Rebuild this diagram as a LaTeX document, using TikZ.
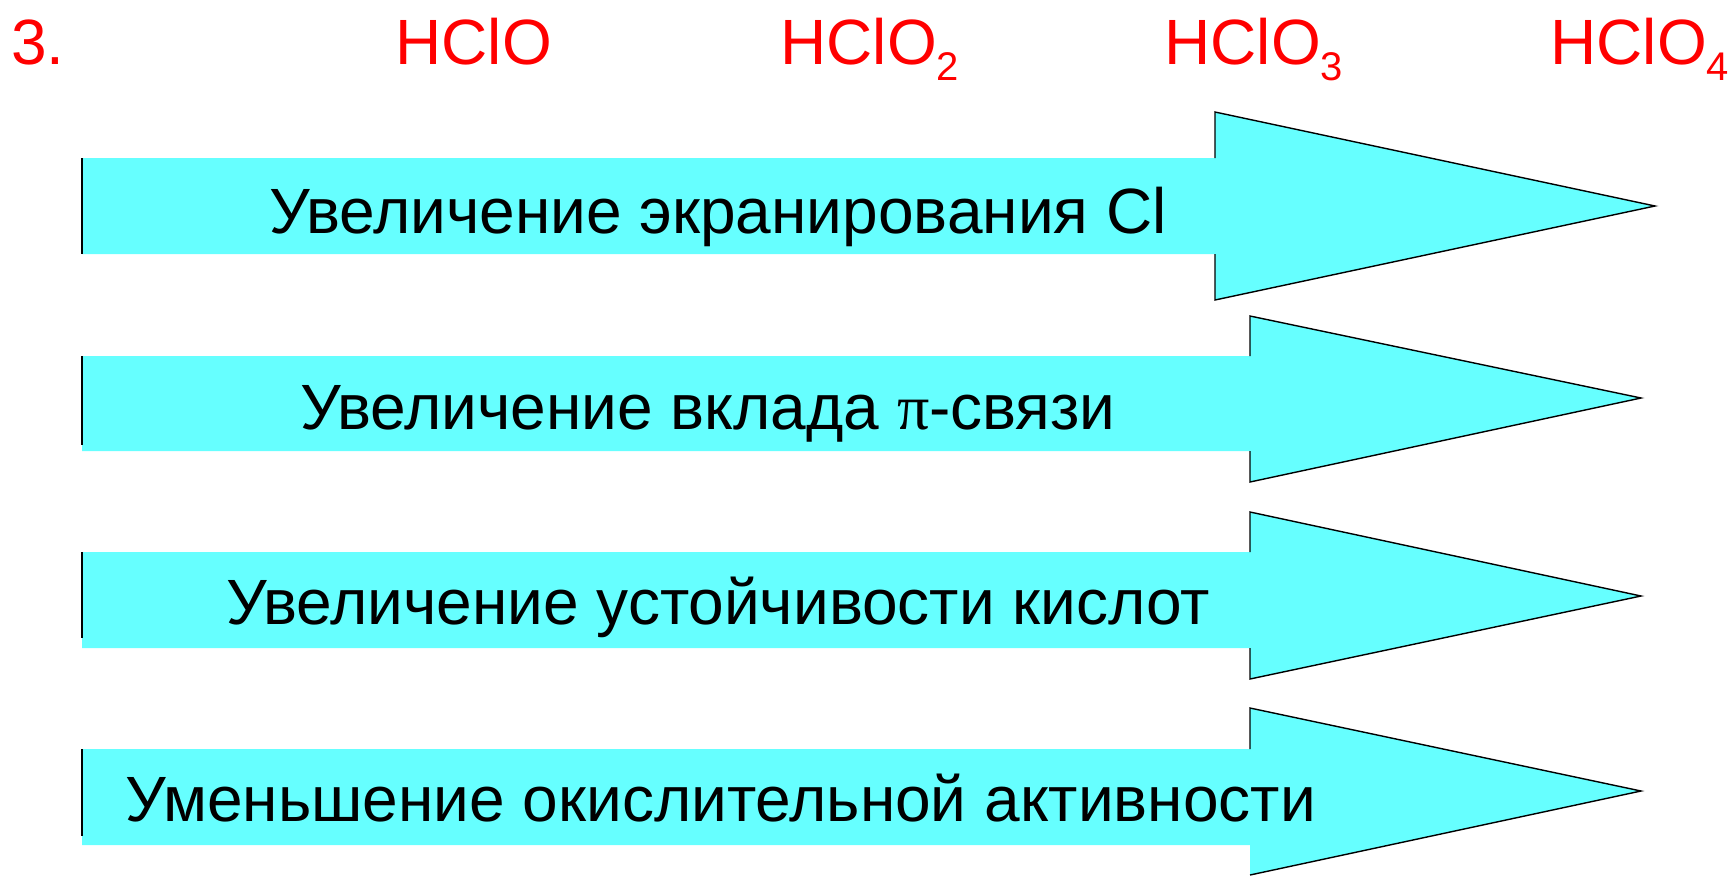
\documentclass[tikz,border=0pt]{standalone}
\usepackage{fontspec}
\setmainfont{Liberation Sans}
\newfontfamily\symbfont{Liberation Serif}
\usepackage{tikz}
\usetikzlibrary{positioning}
\definecolor{aqua}  {HTML}{66FFFF}
\definecolor{acidred}{HTML}{FF0000}
\newcommand\chemsub[1]{\raisebox{-0.26em}{\fontsize{20}{20}\selectfont #1}}

\begin{document}
\begin{tikzpicture}[x=0.5pt,y=-0.5pt,
    band/.style={fill=aqua},
    headline/.style={black, line width=0.7pt, line join=miter},
    acid/.style={anchor=base west, inner sep=0pt, text=acidred, font=\fontsize{32}{38}\selectfont},
    trend/.style={anchor=base west, inner sep=0pt, text=black, font=\fontsize{32}{38}\selectfont}]
  \useasboundingbox (0,0) rectangle (1730,875);
  % arrows
  \fill[band] (82,158) -- (1215,158) -- (1215,112) -- (1655,206) -- (1215,300) -- (1215,254) -- (82,254) -- cycle;
  \draw[headline] (1215,158) -- (1215,112) -- (1655,206) -- (1215,300) -- (1215,254);
  \draw[headline] (82,158) -- (82,254);
  \fill[band] (82,356) -- (1250,356) -- (1250,316) -- (1641,398) -- (1250,482) -- (1250,451) -- (82,451) -- cycle;
  \draw[headline] (1250,356) -- (1250,316) -- (1641,398) -- (1250,482) -- (1250,451);
  \draw[headline] (82,356) -- (82,445);
  \fill[band] (82,552) -- (1250,552) -- (1250,512) -- (1641,596) -- (1250,679) -- (1250,648) -- (82,648) -- cycle;
  \draw[headline] (1250,552) -- (1250,512) -- (1641,596) -- (1250,679) -- (1250,648);
  \draw[headline] (82,552) -- (82,638);
  \fill[band] (82,749) -- (1250,749) -- (1250,708) -- (1641,791) -- (1250,875) -- (1250,845) -- (82,845) -- cycle;
  \draw[headline] (1250,749) -- (1250,708) -- (1641,791) -- (1250,875);
  \draw[headline] (82,749) -- (82,836);
  % acids
  \node[acid] (num) at (11,64) {3.};
  \node[acid] (hclo) at (395,64) {HClO};
  \node[acid] (hclo2) at (780,64) {HClO\chemsub{2}};
  \node[acid] (hclo3) at (1164,64) {HClO\chemsub{3}};
  \node[acid] (hclo4) at (1550,64) {HClO\chemsub{4}};
  % trends
  \node[trend] (shield) at (269,233) {Увеличение экранирования Cl};
  \node[trend] (piband) at (300,429) {Увеличение вклада {\symbfont π}-связи};
  \node[trend] (stable) at (226,624) {Увеличение устойчивости кислот};
  \node[trend] (oxid) at (125,821) {Уменьшение окислительной активности};
\end{tikzpicture}
\end{document}
